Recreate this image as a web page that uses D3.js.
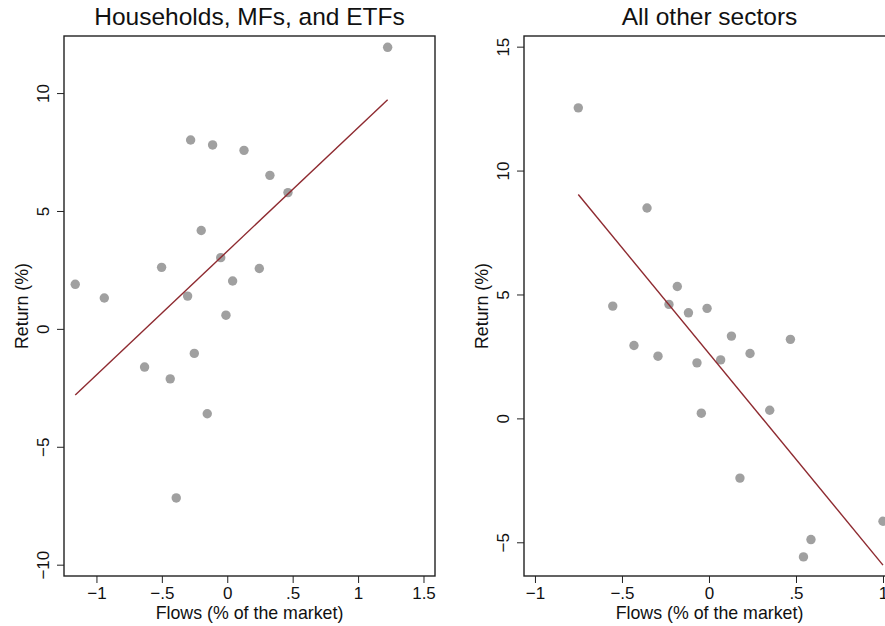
<!DOCTYPE html>
<html>
<head>
<meta charset="utf-8">
<script src="https://cdn.jsdelivr.net/npm/d3@7"></script>
<style>
  body { margin: 0; background: #fff; }
  text { font-family: "Liberation Sans", Arial, Helvetica, sans-serif; fill: #111; }
</style>
</head>
<body>
<div class="chart-container"></div>
<script>
const WIDTH = 885;
const HEIGHT = 626;

// households, MFs and ETFs
const hhFlows = [1.226, -1.162, -0.940, -0.502, -0.280, -0.112, 0.128, 0.326, 0.464, -0.199,
  -0.050, 0.245, 0.041, -0.303, -0.010, -0.252, -0.632, -0.436, -0.153, -0.390];
const hhReturns = [11.94, 1.89, 1.31, 2.61, 8.01, 7.80, 7.57, 6.51, 5.78, 4.17,
  3.02, 2.56, 2.03, 1.39, 0.58, -1.04, -1.62, -2.12, -3.60, -7.17];
const hhFit = [3.29, 5.245]; // intercept, slope

// all other sectors
const otherFlows = [-0.751, -0.356, -0.182, -0.553, -0.230, -0.118, -0.011, -0.431, -0.293, -0.069,
  0.067, 0.129, 0.236, 0.468, -0.044, 0.349, 0.178, 0.586, 0.543, 1.000];
const otherReturns = [12.53, 8.49, 5.32, 4.53, 4.60, 4.26, 4.44, 2.94, 2.51, 2.24,
  2.36, 3.32, 2.62, 3.19, 0.21, 0.33, -2.41, -4.89, -5.59, -4.15];
const otherFit = [2.62, -8.54];

const hhXTicks = [-1, -0.5, 0, 0.5, 1, 1.5];
const hhYTicks = [-10, -5, 0, 5, 10];
const otherXTicks = [-1, -0.5, 0, 0.5, 1];
const otherYTicks = [-5, 0, 5, 10, 15];

const POINT_COLOR = "#a0a0a0";
const FIT_COLOR = "#8e2a30";

const fmt = (v) => {
  let s = String(Math.abs(v)).replace(/^0\./, ".");
  return (v < 0 ? "\u2212" : "") + s;
};

const svg = d3
  .select(".chart-container")
  .append("svg")
  .attr("width", WIDTH)
  .attr("height", HEIGHT);

const drawPanel = (opts) => {
  const { left, right, top, bottom, xDomain, yDomain, flows, returns, fit, xTicks, yTicks, title } = opts;

  const x = d3.scaleLinear().domain(xDomain).range([left, right]);
  const y = d3.scaleLinear().domain(yDomain).range([bottom, top]);

  const g = svg.append("g");

  g.append("text")
    .attr("x", (left + right) / 2)
    .attr("y", 25)
    .attr("text-anchor", "middle")
    .attr("font-size", "24.5px")
    .text(title);

  // frame
  g.append("rect")
    .attr("x", left)
    .attr("y", top)
    .attr("width", right - left)
    .attr("height", bottom - top)
    .attr("fill", "none")
    .attr("stroke", "#222")
    .attr("stroke-width", 1.4);

  const xAxis = g.append("g")
    .attr("transform", `translate(0,${bottom})`)
    .call(d3.axisBottom(x).tickValues(xTicks).tickFormat(fmt).tickSize(7).tickPadding(5));
  xAxis.select(".domain").remove();
  xAxis.selectAll("line").attr("stroke", "#222");
  xAxis.selectAll("text")
    .attr("font-size", "17px")
    .attr("fill", "#111")
    .attr("dy", null)
    .attr("y", 23);

  const yAxis = g.append("g")
    .attr("transform", `translate(${left},0)`)
    .call(d3.axisLeft(y).tickValues(yTicks).tickFormat(fmt).tickSize(7));
  yAxis.select(".domain").remove();
  yAxis.selectAll("line").attr("stroke", "#222");
  yAxis.selectAll("text")
    .attr("font-size", "17px")
    .attr("fill", "#111")
    .attr("x", null)
    .attr("dy", null)
    .attr("text-anchor", "middle")
    .attr("transform", "translate(-15,0) rotate(-90)");

  g.append("text")
    .attr("x", (left + right) / 2)
    .attr("y", 619)
    .attr("text-anchor", "middle")
    .attr("font-size", "17.8px")
    .text("Flows (% of the market)");

  g.append("text")
    .attr("transform", `translate(${left - 36},${(top + bottom) / 2}) rotate(-90)`)
    .attr("text-anchor", "middle")
    .attr("font-size", "17.8px")
    .text("Return (%)");

  const pts = flows.map((f, i) => ({ f: f, r: returns[i] }));

  g.append("g")
    .selectAll("circle")
    .data(pts)
    .join("circle")
    .attr("cx", (d) => x(d.f))
    .attr("cy", (d) => y(d.r))
    .attr("r", 4.7)
    .attr("fill", POINT_COLOR);

  const ext = d3.extent(flows);
  const line = d3.line()
    .x((d) => x(d))
    .y((d) => y(fit[0] + fit[1] * d));

  g.append("path")
    .datum(ext)
    .attr("d", line)
    .attr("fill", "none")
    .attr("stroke", FIT_COLOR)
    .attr("stroke-width", 1.4);
};

drawPanel({
  left: 64, right: 435, top: 36, bottom: 576,
  xDomain: [-1.248, 1.588], yDomain: [-10.48, 12.42],
  flows: hhFlows, returns: hhReturns, fit: hhFit,
  xTicks: hhXTicks, yTicks: hhYTicks,
  title: "Households, MFs, and ETFs",
});

drawPanel({
  left: 524, right: 895, top: 36, bottom: 576,
  xDomain: [-1.063, 1.069], yDomain: [-6.36, 15.43],
  flows: otherFlows, returns: otherReturns, fit: otherFit,
  xTicks: otherXTicks, yTicks: otherYTicks,
  title: "All other sectors",
});
</script>
</body>
</html>
